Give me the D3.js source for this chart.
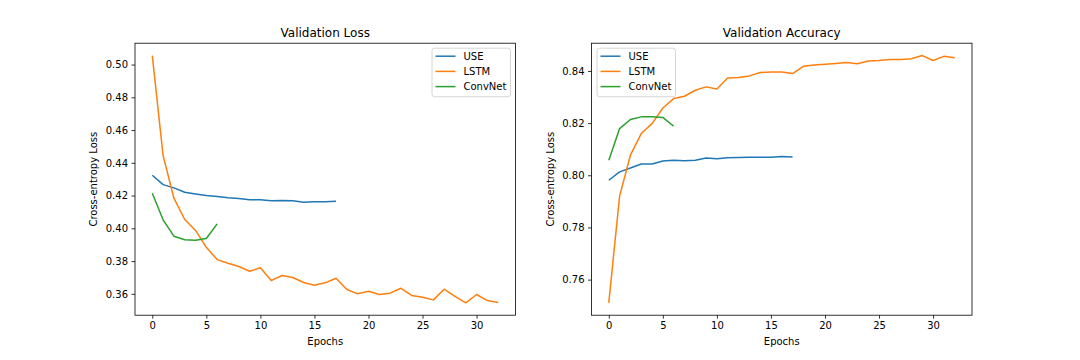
<!DOCTYPE html>
<html>
<head>
<meta charset="utf-8">
<script src="https://cdn.jsdelivr.net/npm/d3@7"></script>
<style>
    body { margin: 0; background: #fff; }
    text { font-family: "DejaVu Sans", sans-serif; fill: #000; }
</style>
</head>
<body>
<svg id="chart" width="1080" height="360"></svg>
<script>
// series names and colours
const seriesNames = ["USE", "LSTM", "ConvNet"];
const seriesColors = ["#1f77b4", "#ff7f0e", "#2ca02c"];

// validation loss per epoch
const lossUSE = [0.4324, 0.4267, 0.4247, 0.4220, 0.4210, 0.4200, 0.4194, 0.4186, 0.4182, 0.4174,
    0.4174, 0.4168, 0.4170, 0.4168, 0.4159, 0.4163, 0.4162, 0.4166];
const lossLSTM = [0.5055, 0.4444, 0.4184, 0.4054, 0.3987, 0.3884, 0.3809, 0.3787, 0.3767, 0.3738,
    0.3759, 0.3681, 0.3712, 0.3700, 0.3669, 0.3653, 0.3667, 0.3695, 0.3626, 0.3600,
    0.3616, 0.3596, 0.3604, 0.3634, 0.3590, 0.3579, 0.3563, 0.3628, 0.3584, 0.3545,
    0.3596, 0.3559, 0.3547];
const lossConvNet = [0.4214, 0.4052, 0.3952, 0.3930, 0.3927, 0.3938, 0.4027];

// validation accuracy per epoch
const accUSE = [0.7981, 0.8013, 0.8028, 0.8043, 0.8043, 0.8055, 0.8058, 0.8056, 0.8058, 0.8066,
    0.8063, 0.8067, 0.8068, 0.8069, 0.8069, 0.8069, 0.8072, 0.8070];
const accLSTM = [0.7511, 0.7920, 0.8077, 0.8160, 0.8198, 0.8258, 0.8294, 0.8303, 0.8326, 0.8339,
    0.8331, 0.8373, 0.8375, 0.8381, 0.8394, 0.8396, 0.8396, 0.8390, 0.8418, 0.8423,
    0.8426, 0.8429, 0.8432, 0.8428, 0.8438, 0.8440, 0.8444, 0.8444, 0.8447, 0.8459,
    0.8440, 0.8456, 0.8451];
const accConvNet = [0.8058, 0.8179, 0.8214, 0.8224, 0.8224, 0.8222, 0.8188];

// tick labels
const xTicks = [0, 5, 10, 15, 20, 25, 30];
const lossTicks = [0.36, 0.38, 0.40, 0.42, 0.44, 0.46, 0.48, 0.50];
const accTicks = [0.76, 0.78, 0.80, 0.82, 0.84];

const svg = d3.select("#chart");

// matplotlib style autoscale with 5% margins
function padded(ext) {
    const m = (ext[1] - ext[0]) * 0.05;
    return [ext[0] - m, ext[1] + m];
}

function drawPanel(opts) {
    const left = opts.left, top = 43.2, w = 380.5, h = 272;
    const g = svg.append("g").attr("transform", `translate(${left},${top})`);

    const all = opts.series.flat();
    const maxLen = d3.max(opts.series, s => s.length);
    const x = d3.scaleLinear().domain(padded([0, maxLen - 1])).range([0, w]);
    const y = d3.scaleLinear().domain(padded(d3.extent(all))).range([h, 0]);

    // lines
    const line = d3.line().x((d, i) => x(i)).y(d => y(d));
    opts.series.forEach((s, k) => {
        g.append("path")
            .datum(s)
            .attr("fill", "none")
            .attr("stroke", seriesColors[k])
            .attr("stroke-width", 1.5)
            .attr("stroke-linejoin", "round")
            .attr("d", line);
    });

    // axes
    const xAxis = g.append("g").attr("transform", `translate(0,${h})`)
        .call(d3.axisBottom(x).tickValues(xTicks).tickSize(3.5).tickPadding(3.5).tickFormat(d3.format("d")));
    const yAxis = g.append("g")
        .call(d3.axisLeft(y).tickValues(opts.ticks).tickSize(3.5).tickPadding(3.5).tickFormat(d3.format(".2f")));
    [xAxis, yAxis].forEach(a => {
        a.select(".domain").remove();
        a.selectAll("line").attr("stroke", "#000").attr("stroke-width", 0.8);
        a.selectAll("text").attr("font-size", 10).attr("font-family", "DejaVu Sans").attr("fill", "#000");
    });

    // frame
    g.append("rect")
        .attr("width", w).attr("height", h)
        .attr("fill", "none").attr("stroke", "#000").attr("stroke-width", 0.8);

    // title and labels
    g.append("text").attr("x", w / 2).attr("y", -6.5)
        .attr("text-anchor", "middle").attr("font-size", 12).text(opts.title);
    g.append("text").attr("x", w / 2).attr("y", h + 29.5)
        .attr("text-anchor", "middle").attr("font-size", 10).text("Epochs");
    g.append("text")
        .attr("transform", `translate(${opts.ylabelX},${h / 2}) rotate(-90)`)
        .attr("text-anchor", "middle").attr("font-size", 10).text("Cross-entropy Loss");

    // legend
    const lw = 78.5, lh = 48.5;
    const lx = opts.legendRight ? w - lw - 5 : 5.5;
    const lg = g.append("g").attr("transform", `translate(${lx},5)`);
    lg.append("rect").attr("width", lw).attr("height", lh).attr("rx", 2.5)
        .attr("fill", "#fff").attr("fill-opacity", 0.8)
        .attr("stroke", "#cccccc").attr("stroke-width", 0.8);
    seriesNames.forEach((name, k) => {
        const yy = 8 + k * 15.2;
        lg.append("line").attr("x1", 3.5).attr("x2", 23.5).attr("y1", yy).attr("y2", yy)
            .attr("stroke", seriesColors[k]).attr("stroke-width", 1.5);
        lg.append("text").attr("x", 31.5).attr("y", yy + 3.6)
            .attr("font-size", 10).text(name);
    });
}

drawPanel({
    left: 135,
    title: "Validation Loss",
    series: [lossUSE, lossLSTM, lossConvNet],
    ticks: lossTicks,
    ylabelX: -38,
    legendRight: true
});

drawPanel({
    left: 591.5,
    title: "Validation Accuracy",
    series: [accUSE, accLSTM, accConvNet],
    ticks: accTicks,
    ylabelX: -38,
    legendRight: false
});
</script>
</body>
</html>
